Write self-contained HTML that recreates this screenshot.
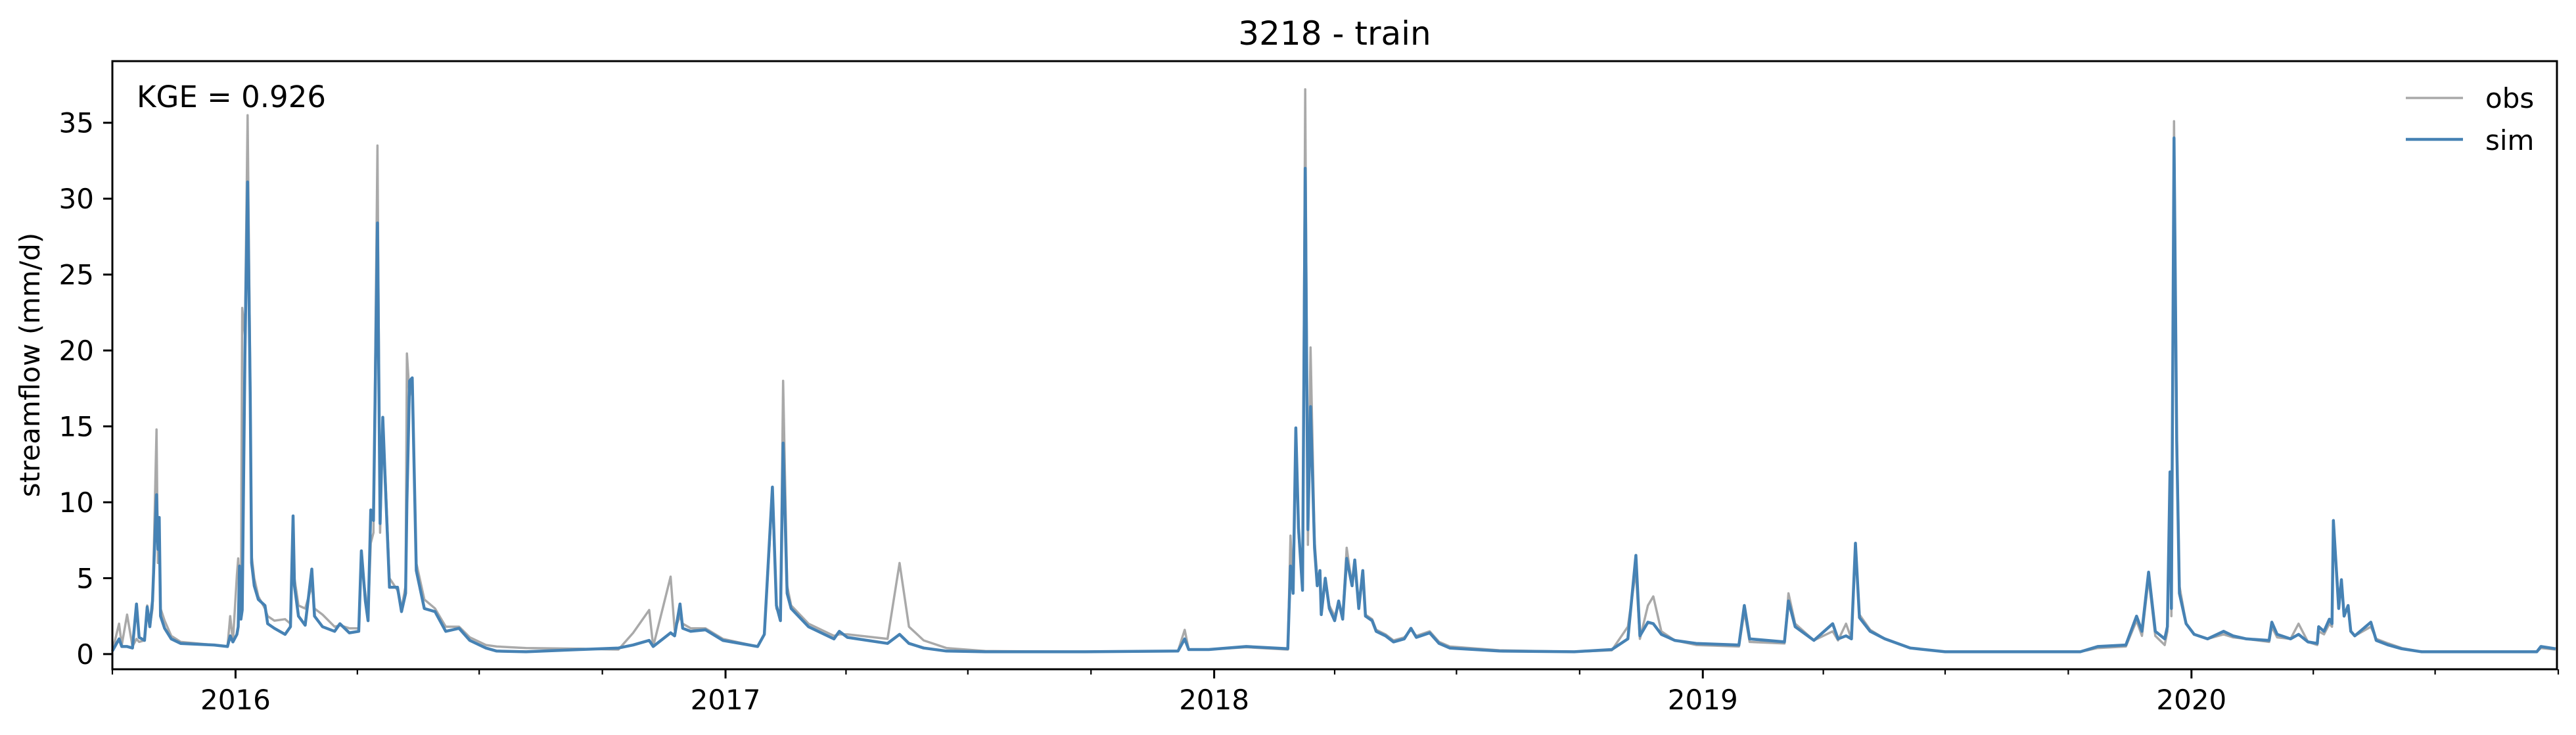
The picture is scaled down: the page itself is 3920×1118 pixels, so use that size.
<!DOCTYPE html>
<html><head><meta charset="utf-8"><style>
html,body{margin:0;padding:0;background:#fff;}
svg{display:block;font-family:"DejaVu Sans","Liberation Sans",sans-serif;}
</style></head><body>
<svg id="chart" width="3920" height="1118" viewBox="0 0 3920 1118" xmlns="http://www.w3.org/2000/svg">
<rect x="0" y="0" width="3920" height="1118" fill="#fff"/>
<text x="2031" y="68" font-size="50" text-anchor="middle" fill="#000">3218 - train</text>
<text transform="translate(60,555) rotate(-90)" font-size="42" text-anchor="middle" fill="#000">streamflow (mm/d)</text>
<g id="plot"></g>
<g id="axes"></g>
<text x="208" y="163" font-size="45" fill="#000">KGE = 0.926</text>
<g>
<line x1="3661" y1="149" x2="3748" y2="149" stroke="#a9a9a9" stroke-width="3.5"/>
<text x="3782" y="164" font-size="42" fill="#000">obs</text>
<line x1="3661" y1="212" x2="3748" y2="212" stroke="#4682b4" stroke-width="4.5"/>
<text x="3782" y="228" font-size="42" fill="#000">sim</text>
</g>
</svg>
<script>
// days since 2015-10-01
const days = [0,5,7,11,15,18,20,24,26,28,30,33,34,35,36,39,44,51,76,86,88,90,93,94,95,96,97,99,101,103,104,106,109,114,116,121,129,133,135,136,139,144,149,151,157,166,170,177,184,186,189,191,193,195,198,200,202,204,207,213,216,219,220,222,224,227,233,241,249,259,267,279,287,309,349,378,389,401,404,417,420,424,426,432,443,456,482,487,493,496,499,501,504,507,520,539,543,549,579,588,595,606,623,652,726,796,801,804,819,847,878,880,882,884,886,889,891,893,895,898,900,902,903,906,909,913,916,919,922,926,928,931,934,936,941,944,951,957,965,970,974,984,991,999,1036,1092,1120,1132,1138,1141,1147,1151,1157,1167,1183,1215,1219,1223,1249,1252,1257,1271,1285,1289,1295,1299,1302,1305,1313,1324,1343,1369,1470,1483,1504,1512,1516,1521,1526,1533,1535,1537,1538,1540,1542,1544,1549,1555,1565,1577,1584,1594,1611,1613,1617,1627,1633,1640,1647,1648,1652,1656,1658,1659,1663,1665,1667,1670,1672,1675,1687,1691,1700,1710,1725,1811,1814,1825];
const simValues = [0.2,1.0,0.5,0.5,0.4,3.3,1.1,0.9,3.1,1.8,3.5,10.5,6.9,9.0,2.5,1.7,1.0,0.7,0.6,0.5,1.2,0.8,1.3,1.8,5.8,2.3,2.9,19.7,31.1,17.0,6.0,4.5,3.6,3.2,2.0,1.7,1.3,1.8,9.1,4.5,2.5,1.9,5.6,2.5,1.8,1.5,2.0,1.4,1.5,6.8,3.5,2.2,9.5,8.8,28.4,8.6,15.6,11.0,4.4,4.4,2.8,4.0,10.0,18.0,18.2,5.5,3.0,2.8,1.5,1.7,0.9,0.4,0.2,0.15,0.3,0.4,0.6,0.9,0.5,1.4,1.2,3.3,1.7,1.5,1.6,0.9,0.5,1.3,11.0,3.2,2.2,13.9,4.0,3.0,1.8,1.0,1.5,1.1,0.7,1.3,0.7,0.4,0.2,0.15,0.15,0.2,1.0,0.3,0.3,0.5,0.35,5.8,4.0,14.9,8.3,4.2,32.0,8.2,16.3,7.0,4.5,5.5,2.6,5.0,3.0,2.2,3.5,2.3,6.3,4.5,6.2,3.0,5.5,2.5,2.2,1.5,1.2,0.8,1.0,1.7,1.1,1.4,0.7,0.4,0.2,0.15,0.3,1.0,6.5,1.2,2.1,2.0,1.3,0.9,0.7,0.6,3.2,1.0,0.8,3.5,1.8,0.9,2.0,1.0,1.2,1.0,7.3,2.4,1.5,1.0,0.4,0.15,0.15,0.5,0.6,2.5,1.5,5.4,1.5,1.0,1.8,12.0,3.0,34.0,14.0,4.0,2.0,1.3,1.0,1.5,1.2,1.0,0.9,2.1,1.3,1.0,1.3,0.8,0.7,1.8,1.5,2.3,2.0,8.8,3.0,4.9,2.5,3.2,1.5,1.2,2.1,0.9,0.6,0.35,0.15,0.15,0.5,0.35];
const obsValues = [0.2,2.0,0.6,2.6,0.5,1.0,0.8,0.9,3.2,1.8,3.0,14.8,6.0,8.5,3.0,2.2,1.2,0.8,0.6,0.5,2.5,0.8,5.2,6.3,4.5,3.0,22.8,21.0,35.5,18.0,6.5,5.0,3.8,3.0,2.5,2.2,2.3,2.0,8.5,5.0,3.2,3.0,4.5,3.0,2.6,1.8,1.9,1.7,1.7,6.0,4.0,2.5,7.3,8.0,33.5,8.0,15.0,11.5,5.0,4.2,3.0,4.5,19.8,17.0,18.0,6.0,3.6,3.0,1.8,1.8,1.1,0.6,0.5,0.4,0.35,0.3,1.4,2.9,0.5,5.1,1.6,2.5,2.0,1.7,1.7,1.0,0.5,1.3,10.5,3.0,2.5,18.0,4.5,3.2,2.0,1.2,1.3,1.3,1.0,6.0,1.8,0.9,0.4,0.2,0.15,0.2,1.6,0.3,0.3,0.45,0.3,7.8,4.0,14.0,8.0,4.5,37.2,7.2,20.2,7.5,5.0,5.0,3.0,5.0,3.2,2.5,3.3,2.5,7.0,4.5,5.8,3.2,5.0,2.6,2.3,1.6,1.3,0.9,1.1,1.6,1.2,1.5,0.8,0.5,0.25,0.15,0.25,1.8,5.5,1.0,3.2,3.8,1.5,0.9,0.6,0.5,2.8,0.8,0.7,4.0,2.0,0.9,1.5,0.9,2.0,1.0,6.8,2.6,1.6,1.0,0.4,0.15,0.15,0.4,0.5,2.2,1.2,5.0,1.2,0.6,1.5,11.0,2.5,35.1,15.0,4.5,2.0,1.3,1.0,1.3,1.1,1.0,0.8,1.8,1.1,1.0,2.0,0.8,0.6,1.5,1.3,2.0,1.8,8.5,3.5,4.5,2.7,3.0,1.5,1.2,1.8,1.0,0.7,0.4,0.15,0.15,0.4,0.3];
const yTicks = [0,5,10,15,20,25,30,35];
const yearLabels = ["2016","2017","2018","2019","2020"];

const NS = "http://www.w3.org/2000/svg";
const X0 = 171, X1 = 3891, Y0 = 93, Y1 = 1018;
const DMIN = 0, DMAX = 1826, VMIN = -1.0, VMAX = 39.06;
const base = Date.UTC(2015, 9, 1);
function xScale(d){ return X0 + (d - DMIN) / (DMAX - DMIN) * (X1 - X0); }
function yScale(v){ return Y1 - (v - VMIN) / (VMAX - VMIN) * (Y1 - Y0); }
function dayOf(y, m){ return (Date.UTC(y, m, 1) - base) / 86400000; }

const plot = document.getElementById('plot');
const axes = document.getElementById('axes');

function drawSeries(vals, color, width, name){
  const pts = days.map((d, i) => xScale(d).toFixed(1) + ',' + yScale(vals[i]).toFixed(1)).join(' ');
  const pl = document.createElementNS(NS, 'polyline');
  pl.setAttribute('points', pts);
  pl.setAttribute('fill', 'none');
  pl.setAttribute('stroke', color);
  pl.setAttribute('stroke-width', width);
  pl.setAttribute('stroke-linejoin', 'round');
  
  
  plot.appendChild(pl);
}
drawSeries(obsValues, '#a9a9a9', 3.5, 'obs-line');
drawSeries(simValues, '#4682b4', 4.5, 'sim-line');

const frame = document.createElementNS(NS, 'rect');
frame.setAttribute('x', X0); frame.setAttribute('y', Y0);
frame.setAttribute('width', X1 - X0); frame.setAttribute('height', Y1 - Y0);
frame.setAttribute('fill', 'none'); frame.setAttribute('stroke', '#000'); frame.setAttribute('stroke-width', 3);


axes.appendChild(frame);

yTicks.forEach(v => {
  const y = yScale(v);
  const t = document.createElementNS(NS, 'line');
  t.setAttribute('x1', X0 - 14); t.setAttribute('x2', X0); t.setAttribute('y1', y); t.setAttribute('y2', y);
  t.setAttribute('stroke', '#000'); t.setAttribute('stroke-width', 3);
  
  
  axes.appendChild(t);
  const lb = document.createElementNS(NS, 'text');
  lb.setAttribute('x', X0 - 28); lb.setAttribute('y', y + 15);
  lb.setAttribute('font-size', 42); lb.setAttribute('text-anchor', 'end');
  lb.textContent = v;
  
  
  axes.appendChild(lb);
});

for (let yr = 2015; yr <= 2020; yr++) {
  [0, 3, 6, 9].forEach(m => {
    const d = dayOf(yr, m);
    if (d < DMIN || d > DMAX + 1) return;
    const x = xScale(d);
    const major = m === 0;
    const t = document.createElementNS(NS, 'line');
    t.setAttribute('x1', x); t.setAttribute('x2', x); t.setAttribute('y1', Y1); t.setAttribute('y2', Y1 + (major ? 14 : 8));
    t.setAttribute('stroke', '#000'); t.setAttribute('stroke-width', major ? 3 : 2.2);
    
    
    axes.appendChild(t);
  });
}
yearLabels.forEach(lbl => {
  const x = xScale(dayOf(parseInt(lbl, 10), 0));
  const tx = document.createElementNS(NS, 'text');
  tx.setAttribute('x', x); tx.setAttribute('y', 1079);
  tx.setAttribute('font-size', 42); tx.setAttribute('text-anchor', 'middle');
  tx.textContent = lbl;
  
  
  axes.appendChild(tx);
});
</script>
</body></html>
